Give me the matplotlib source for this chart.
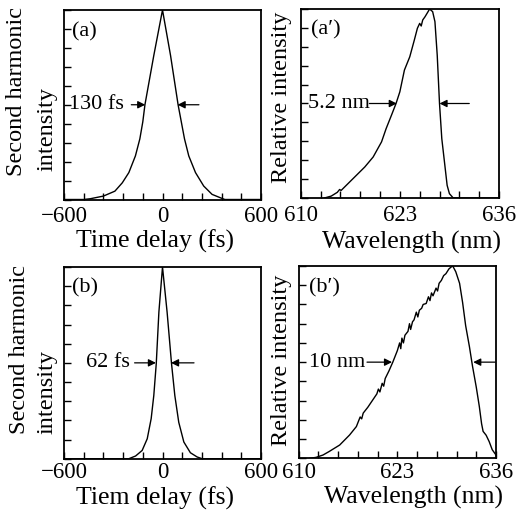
import matplotlib
matplotlib.use("Agg")
import matplotlib.pyplot as plt
import numpy as np

plt.rcParams['font.family'] = ['Liberation Serif', 'DejaVu Serif']
plt.rcParams['mathtext.fontset'] = 'stix'

# ---- data ----
t_a = [-600, -480, -440, -360, -290, -245, -205, -165, -138, -120, -107, -53, 0,
       49, 95, 134, 160, 201, 251, 302, 353, 380, 600]
I_a = [0.0, 0.0, 0.004, 0.018, 0.044, 0.088, 0.142, 0.23, 0.32, 0.41, 0.50, 0.76, 1.0,
       0.76, 0.50, 0.32, 0.23, 0.142, 0.071, 0.027, 0.009, 0.0, 0.0]

t_b = [-600, -205, -164, -124, -93, -69, -53, -38, -22, 0,
       28, 55, 75, 99, 130, 170, 211, 241, 600]
I_b = [0.0, 0.0, 0.014, 0.043, 0.104, 0.209, 0.33, 0.496, 0.765, 1.0,
       0.765, 0.496, 0.33, 0.19, 0.087, 0.031, 0.009, 0.0, 0.0]

wl_a = [613.1, 614.0, 614.8, 615.1, 615.3, 616.2, 617.3, 618.4, 619.5, 620.6,
        621.2, 621.9, 622.5, 623.0, 623.6, 624.3, 624.9, 625.3, 625.6, 625.8,
        626.0, 626.3, 626.7, 626.9, 627.3, 627.6, 627.9, 628.2, 628.5, 628.9,
        629.2, 629.5, 630.0, 636.0]
S_a = [0.0, 0.01, 0.03, 0.045, 0.04, 0.076, 0.12, 0.164, 0.217, 0.297,
       0.367, 0.438, 0.5, 0.562, 0.677, 0.747, 0.836, 0.898, 0.924, 0.91,
       0.942, 0.959, 0.986, 1.0, 0.986, 0.933, 0.756, 0.5, 0.314, 0.173,
       0.067, 0.023, 0.0, 0.0]

wl_b = [611.5, 612.3, 613.2, 614.0, 615.4, 616.7, 617.6, 618.1, 618.3, 618.5,
        619.1, 619.7, 620.3, 620.5, 620.7, 621.0, 621.2, 621.4, 621.9, 622.4,
        623.0, 623.3, 623.45, 623.6, 623.8, 624.0, 624.4, 624.6, 624.75, 625.0,
        625.2, 625.5, 625.7, 625.9, 626.2, 626.4, 626.8, 627.1, 627.3, 627.5,
        627.7, 628.1, 628.3, 628.5, 628.8, 629.1, 629.4, 629.8, 630.1, 630.3,
        630.7, 631.2, 631.6, 632.0, 632.5, 632.9, 633.4, 633.8, 634.1, 634.3,
        634.7, 635.1, 635.5, 636.0]
S_b = [0.0, 0.005, 0.017, 0.035, 0.069, 0.121, 0.165, 0.215, 0.205, 0.235,
       0.265, 0.30, 0.335, 0.36, 0.345, 0.39, 0.375, 0.415, 0.455, 0.50,
       0.56, 0.60, 0.57, 0.625, 0.60, 0.64, 0.66, 0.70, 0.67, 0.71,
       0.72, 0.76, 0.735, 0.77, 0.78, 0.80, 0.805, 0.84, 0.82, 0.86,
       0.845, 0.885, 0.87, 0.91, 0.925, 0.95, 0.96, 0.985, 0.995, 1.0,
       0.97, 0.91, 0.81, 0.69, 0.58, 0.48, 0.37, 0.27, 0.18, 0.14,
       0.12, 0.087, 0.045, 0.017]

time_ticks = [-600, 0, 600]
time_ticklabels = ['\u2212600', '0', '600']
wl_ticks = [610, 623, 636]
wl_ticklabels = ['610', '623', '636']

W, H = 521, 515
fig = plt.figure(figsize=(W / 100, H / 100), dpi=100)


def px_axes(x0, y0, x1, y1):
    return fig.add_axes([x0 / W, 1 - y1 / H, (x1 - x0) / W, (y1 - y0) / H])


ax_a = px_axes(64, 10, 261, 199.5)
ax_ap = px_axes(300.7, 9, 499, 198)
ax_b = px_axes(64, 267, 261, 458.7)
ax_bp = px_axes(298.7, 266, 496, 458.3)

TICKFS = 16.5
ARROW = dict(arrowstyle='-|>', color='k', lw=0.9, mutation_scale=11, shrinkA=0, shrinkB=0)


def style(ax, xlim, majors, labels, minor_step, pad):
    ax.set_xlim(*xlim)
    ax.set_ylim(0, 1.0)
    ax.set_xticks(majors)
    ax.set_xticklabels(labels, fontsize=TICKFS)
    ax.set_xticks(np.arange(xlim[0], xlim[1] + 1e-6, minor_step), minor=True)
    ax.set_yticks(np.arange(0, 1.0001, 0.1))
    ax.set_yticklabels([])
    ax.tick_params(which='both', direction='in', length=5, width=1.0,
                   top=False, right=False, pad=pad)
    for s in ax.spines.values():
        s.set_linewidth(1.3)


for ax, t, I, pad in [(ax_a, t_a, I_a, 5), (ax_b, t_b, I_b, 2.5)]:
    ax.plot(t, I, color='k', lw=1.0)
    style(ax, (-600, 600), time_ticks, time_ticklabels, 120, pad)
for ax, w, S, pad in [(ax_ap, wl_a, S_a, 5), (ax_bp, wl_b, S_b, 2.5)]:
    ax.plot(w, S, color='k', lw=1.0)
    style(ax, (610, 636), wl_ticks, wl_ticklabels, 2.6, pad)

# panel letters
ax_a.text(-550, 0.885, '(a)', fontsize=16, va='center', ha='left')
ax_ap.text(611.4, 0.89, '(a\u2032)', fontsize=16, va='center', ha='left')
ax_b.text(-550, 0.889, '(b)', fontsize=16, va='center', ha='left')
ax_bp.text(611.4, 0.885, '(b\u2032)', fontsize=16, va='center', ha='left')

# FWHM annotations
ax_a.text(-568, 0.5, '130 fs', fontsize=16, va='center', ha='left')
ax_a.annotate('', xy=(-105, 0.5), xytext=(-190, 0.5), arrowprops=ARROW)
ax_a.annotate('', xy=(92, 0.5), xytext=(222, 0.5), arrowprops=ARROW)

ax_b.text(-465, 0.5, '62 fs', fontsize=16, va='center', ha='left')
ax_b.annotate('', xy=(-40, 0.5), xytext=(-170, 0.5), arrowprops=ARROW)
ax_b.annotate('', xy=(52, 0.5), xytext=(192, 0.5), arrowprops=ARROW)

ax_ap.text(611.0, 0.5, '5.2 nm', fontsize=16, va='center', ha='left')
ax_ap.annotate('', xy=(622.6, 0.5), xytext=(619.0, 0.5), arrowprops=ARROW)
ax_ap.annotate('', xy=(628.2, 0.5), xytext=(632.1, 0.5), arrowprops=ARROW)

ax_bp.text(611.4, 0.5, '10 nm', fontsize=16, va='center', ha='left')
ax_bp.annotate('', xy=(622.3, 0.5), xytext=(619.0, 0.5), arrowprops=ARROW)
ax_bp.annotate('', xy=(633.0, 0.5), xytext=(635.9, 0.5), arrowprops=ARROW)

# axis labels (pixel-placed)
def ftext(x, y, s, rot=0, fs=18):
    fig.text(x / W, 1 - y / H, s, fontsize=fs, rotation=rot, ha='center', va='center')


ftext(155, 241, 'Time delay (fs)', fs=18.5)
ftext(411, 242, 'Wavelength (nm)', fs=18.5)
ftext(155, 498, 'Tiem delay (fs)', fs=18.5)
ftext(413, 497, 'Wavelength (nm)', fs=18.5)

ftext(17, 92, 'Second harmonic', rot=90, fs=17.5)
ftext(47, 129, 'intensity', rot=90, fs=17.5)
ftext(19.5, 350, 'Second harmonic', rot=90, fs=17.5)
ftext(47.5, 392, 'intensity', rot=90, fs=17.5)
ftext(281, 97, 'Relative intensity', rot=90, fs=17.5)
ftext(281, 360, 'Relative intensity', rot=90, fs=17.5)

fig.savefig('out.png', dpi=100)
